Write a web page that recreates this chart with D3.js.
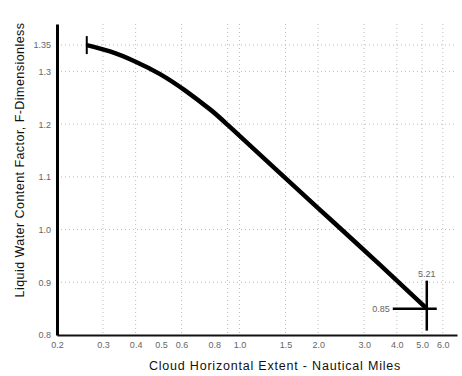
<!DOCTYPE html>
<html>
<head>
<meta charset="utf-8">
<script src="https://cdn.jsdelivr.net/npm/d3@7"></script>
<style>
  body { margin: 0; background: #fff; }
  svg { display: block; font-family: "Liberation Sans", Arial, sans-serif; }
</style>
</head>
<body>
<svg width="462" height="376"></svg>
<script>
// curve
var extentMiles = [0.26, 0.319, 0.398, 0.496, 0.618, 0.771, 0.903, 1.428, 2.22, 3.45, 5.21];
var factorF     = [1.35, 1.338, 1.319, 1.295, 1.264, 1.228, 1.198, 1.107, 1.02, 0.933, 0.85];

var xTicks = [0.2, 0.3, 0.4, 0.5, 0.6, 0.8, 1.0, 1.5, 2.0, 3.0, 4.0, 5.0, 6.0];
var xGrid = [0.3, 0.4, 0.6, 0.9, 1.0, 1.5, 2.0, 3.0, 4.0, 5.0, 6.0];
var yTicks = [0.8, 0.9, 1.0, 1.1, 1.2, 1.3, 1.35];
var yGrid = [0.9, 1.0, 1.1, 1.2, 1.3, 1.35];

var endX = 5.21, endY = 0.85;

var svg = d3.select("svg");

var x = d3.scaleLog().domain([0.2, 6.8]).range([57, 457]);
var y = d3.scaleLinear().domain([0.8, 1.39]).range([335, 24]);

var fmt = function(d) { return d == 1.35 ? "1.35" : d3.format(".1f")(d); };

// grid
svg.append("g").selectAll("line")
    .data(xGrid)
  .enter().append("line")
    .attr("x1", function(d) { return x(d); })
    .attr("x2", function(d) { return x(d); })
    .attr("y1", y(1.39))
    .attr("y2", y(0.8))
    .attr("stroke", "#bbb")
    .attr("stroke-width", 1)
    .attr("stroke-dasharray", "1,3");

svg.append("g").selectAll("line")
    .data(yGrid)
  .enter().append("line")
    .attr("x1", x(0.2))
    .attr("x2", x(6.8))
    .attr("y1", function(d) { return y(d); })
    .attr("y2", function(d) { return y(d); })
    .attr("stroke", "#bbb")
    .attr("stroke-width", 1)
    .attr("stroke-dasharray", "1,3");

// axes
var xAxis = svg.append("g")
    .attr("transform", "translate(0," + y(0.8) + ")")
    .call(d3.axisBottom(x).tickValues(xTicks).tickFormat(d3.format(".1f")).tickSize(0).tickPadding(7));
xAxis.select(".domain").attr("stroke", "#111").attr("stroke-width", 2);
xAxis.selectAll("text").attr("fill", "#666").attr("font-size", 9);

var yAxis = svg.append("g")
    .attr("transform", "translate(" + x(0.2) + ",0)")
    .call(d3.axisLeft(y).tickValues(yTicks).tickFormat(fmt).tickSize(0).tickPadding(6));
yAxis.select(".domain").attr("stroke", "#000").attr("stroke-width", 3);
yAxis.selectAll("text").attr("fill", "#666").attr("font-size", 9);

// curve
var pts = d3.zip(extentMiles, factorF);
var line = d3.line()
    .x(function(d) { return x(d[0]); })
    .y(function(d) { return y(d[1]); })
    .curve(d3.curveNatural);

svg.append("path")
    .datum(pts)
    .attr("d", line)
    .attr("fill", "none")
    .attr("stroke", "#000")
    .attr("stroke-width", 4.5);

// start tick
svg.append("line")
    .attr("x1", x(extentMiles[0])).attr("x2", x(extentMiles[0]))
    .attr("y1", y(factorF[0]) - 9).attr("y2", y(factorF[0]) + 9)
    .attr("stroke", "#000").attr("stroke-width", 2);

// end cross
svg.append("line")
    .attr("x1", x(endX)).attr("x2", x(endX))
    .attr("y1", y(endY) - 28).attr("y2", y(endY) + 22)
    .attr("stroke", "#000").attr("stroke-width", 2.5);
svg.append("line")
    .attr("x1", x(endX) - 34).attr("x2", x(endX) + 10)
    .attr("y1", y(endY)).attr("y2", y(endY))
    .attr("stroke", "#000").attr("stroke-width", 2.5);

svg.append("text")
    .attr("x", x(endX))
    .attr("y", y(endY) - 32)
    .attr("text-anchor", "middle")
    .attr("font-size", 9)
    .attr("fill", "#666")
    .text("5.21");
svg.append("text")
    .attr("x", x(endX) - 37)
    .attr("y", y(endY) + 3)
    .attr("text-anchor", "end")
    .attr("font-size", 9)
    .attr("fill", "#666")
    .text("0.85");

// titles
svg.append("text")
    .attr("x", 275)
    .attr("y", 370)
    .attr("text-anchor", "middle")
    .attr("font-size", 12.5)
    .attr("letter-spacing", 0.8)
    .attr("fill", "#111")
    .text("Cloud Horizontal Extent - Nautical Miles");

svg.append("text")
    .attr("transform", "translate(24,160) rotate(-90)")
    .attr("text-anchor", "middle")
    .attr("font-size", 12.5)
    .attr("letter-spacing", 0.45)
    .attr("fill", "#111")
    .text("Liquid Water Content Factor, F-Dimensionless");
</script>
</body>
</html>
